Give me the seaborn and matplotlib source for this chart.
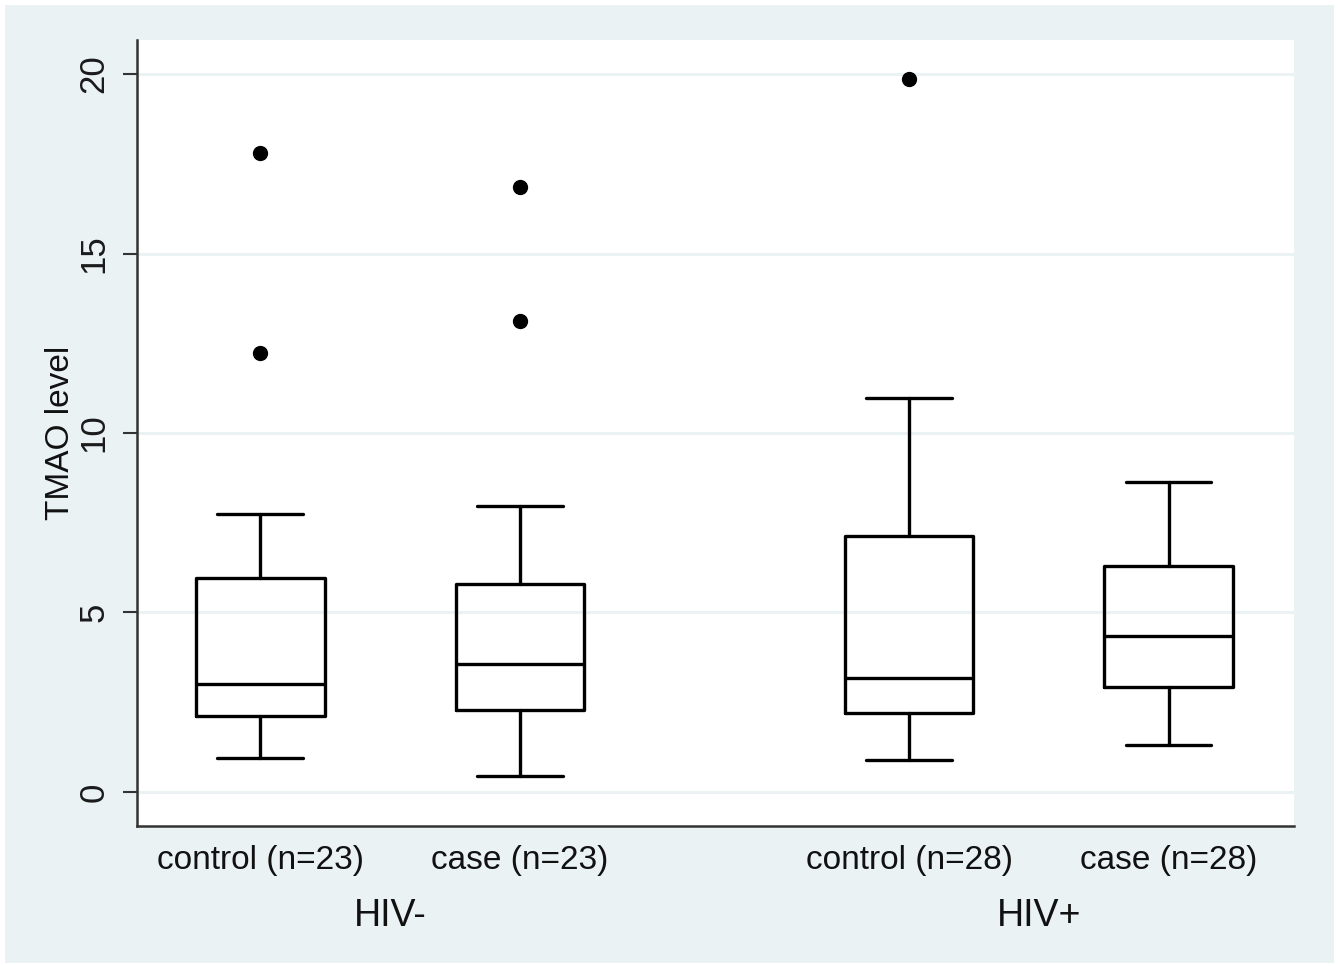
import matplotlib
matplotlib.use("Agg")
import matplotlib.pyplot as plt
import matplotlib.transforms as mtransforms
from matplotlib.patches import Rectangle
import seaborn as sns

# ---- data ----
categories = ["control (n=23)", "case (n=23)", "control (n=28)", "case (n=28)"]
groups = ["HIV-", "HIV+"]
whisker_low = [0.95, 0.45, 0.89, 1.31]
q1 = [2.12, 2.28, 2.20, 2.92]
median = [3.01, 3.57, 3.18, 4.35]
q3 = [5.96, 5.79, 7.13, 6.30]
whisker_high = [7.74, 7.97, 10.97, 8.64]
outliers = [[12.23, 17.8], [13.12, 16.85], [19.86], []]
y_ticks = [0, 5, 10, 15, 20]

# ---- layout ----
positions = [0, 1, 2.5, 3.5]
group_centers = [0.5, 3.0]

sns.set_style("white")
plt.rcParams["font.family"] = ["Liberation Sans", "DejaVu Sans"]

BG = "#EAF2F3"
fig = plt.figure(figsize=(13.39, 9.66), dpi=100, facecolor="white")
fig.patches.append(Rectangle((5 / 1339, 3 / 966), 1 - 10 / 1339, 1 - 8 / 966,
                             transform=fig.transFigure, facecolor=BG,
                             edgecolor="none", zorder=-10))
ax = fig.add_axes([137 / 1339, 140 / 966, (1294 - 137) / 1339, (826 - 40) / 966])
ax.set_facecolor("white")

stats = []
for i in range(len(categories)):
    stats.append(dict(med=median[i], q1=q1[i], q3=q3[i],
                      whislo=whisker_low[i], whishi=whisker_high[i],
                      fliers=outliers[i], label=categories[i]))

lw = 2.4
ax.bxp(stats, positions=positions, widths=0.495, capwidths=0.33,
       showfliers=True, patch_artist=False,
       boxprops=dict(color="black", linewidth=lw),
       medianprops=dict(color="black", linewidth=lw),
       whiskerprops=dict(color="black", linewidth=lw),
       capprops=dict(color="black", linewidth=lw),
       flierprops=dict(marker="o", markerfacecolor="black",
                       markeredgecolor="black", markersize=10))

ax.set_xlim(-0.475, 3.983)
ax.set_ylim(-0.95, 20.95)
ax.set_yticks(y_ticks)
ax.set_yticklabels([str(v) for v in y_ticks], rotation=90, va="center",
                   fontsize=25, color="#1a1a1a")
ax.set_xticks(positions)
ax.set_xticklabels(categories, fontsize=24, color="#111111")
ax.tick_params(axis="x", length=0, pad=14)
ax.tick_params(axis="y", length=10, width=1.5, color="#333333", pad=9,
               left=True)
ax.yaxis.grid(True, color=BG, linewidth=2.2)
ax.xaxis.grid(False)
ax.set_axisbelow(True)

for s in ["top", "right"]:
    ax.spines[s].set_visible(False)
for s in ["left", "bottom"]:
    ax.spines[s].set_color("#333333")
    ax.spines[s].set_linewidth(1.8)

ax.set_ylabel("TMAO level", fontsize=24, color="#111111", labelpad=1)

trans = mtransforms.blended_transform_factory(ax.transData, ax.transAxes)
for g, c in zip(groups, group_centers):
    ax.text(c, -0.114, g, transform=trans, ha="center", va="center",
            fontsize=27, color="#111111")

fig.savefig("out.png", dpi=100, facecolor=fig.get_facecolor())
